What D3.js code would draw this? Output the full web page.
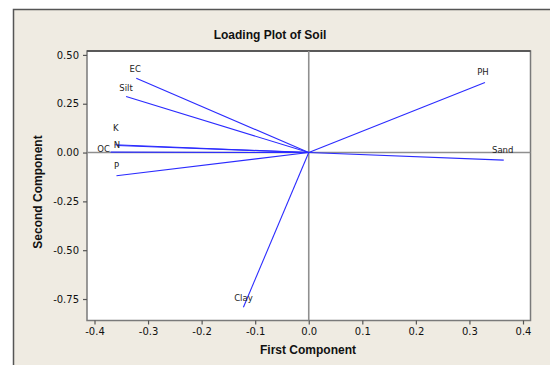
<!DOCTYPE html>
<html>
<head>
<meta charset="utf-8">
<script src="https://cdn.jsdelivr.net/npm/d3@7"></script>
<style>
  body { margin: 0; background: #fff; }
  svg { display: block; }
</style>
</head>
<body>
<div id="chart"></div>
<script>
// Loading plot data
var variables = ["EC", "Silt", "K", "N", "OC", "P", "PH", "Sand", "Clay"];
var firstComp = [-0.322, -0.341, -0.362, -0.358, -0.370, -0.359, 0.329, 0.364, -0.122];
var secondComp = [0.381, 0.287, 0.040, 0.036, 0.002, -0.119, 0.359, -0.039, -0.792];
var xTicks = [-0.4, -0.3, -0.2, -0.1, 0.0, 0.1, 0.2, 0.3, 0.4];
var yTicks = [0.50, 0.25, 0.00, -0.25, -0.50, -0.75];

// label nudges (pixels) so names sit like in the original
var labelOffsets = {
  EC: [-1, -6], Silt: [0, -6], K: [1, -14], N: [0, 2], OC: [-7, 0],
  P: [0, -7], PH: [-2, -7], Sand: [-1, -7], Clay: [0, -6]
};

var svgWidth = 550, svgHeight = 365;
var plot = { left: 87, right: 530.5, top: 51, bottom: 320.5 };

var svg = d3.select("#chart").append("svg")
  .attr("width", svgWidth)
  .attr("height", svgHeight);

// beige frame
svg.append("rect")
  .attr("x", 13.5).attr("y", 9.5)
  .attr("width", 560).attr("height", 380)
  .attr("fill", "#efebe2")
  .attr("stroke", "#555")
  .attr("stroke-width", 1.5);

var x = d3.scaleLinear().domain([-0.414, 0.414]).range([plot.left, plot.right]);
var y = d3.scaleLinear().domain([0.52, -0.86]).range([plot.top, plot.bottom]);

svg.append("rect")
  .attr("x", plot.left).attr("y", plot.top)
  .attr("width", plot.right - plot.left).attr("height", plot.bottom - plot.top)
  .attr("fill", "#fff")
  .attr("stroke", "#7a7a7a")
  .attr("stroke-width", 1.5);
svg.append("line")
  .attr("x1", plot.left).attr("x2", plot.right)
  .attr("y1", plot.top).attr("y2", plot.top)
  .attr("stroke", "#444").attr("stroke-width", 1.5);

// reference lines at zero
svg.append("line")
  .attr("x1", x(0)).attr("x2", x(0))
  .attr("y1", plot.top).attr("y2", plot.bottom)
  .attr("stroke", "#8f8f8f").attr("stroke-width", 1.6);
svg.append("line")
  .attr("x1", plot.left).attr("x2", plot.right)
  .attr("y1", y(0)).attr("y2", y(0))
  .attr("stroke", "#8f8f8f").attr("stroke-width", 1.6);

// axes (plain hyphen for minus, like the original)
var fmt = function(spec) {
  var f = d3.format(spec);
  return d => f(d).replace("\u2212", "-");
};
var xAxis = d3.axisBottom(x).tickValues(xTicks).tickFormat(fmt(".1f")).tickSize(4).tickSizeOuter(0).tickPadding(3);
var yAxis = d3.axisLeft(y).tickValues(yTicks).tickFormat(fmt(".2f")).tickSize(4).tickSizeOuter(0).tickPadding(4);

var gx = svg.append("g").attr("transform", `translate(0, ${plot.bottom})`).call(xAxis);
var gy = svg.append("g").attr("transform", `translate(${plot.left}, 0)`).call(yAxis);
[gx, gy].forEach(function(g) {
  g.select(".domain").remove();
  g.selectAll("line").attr("stroke", "#555").attr("stroke-width", 1.2);
  g.selectAll("text")
    .attr("font-family", "DejaVu Sans, Verdana, sans-serif")
    .attr("font-size", "10px")
    .attr("fill", "#111");
});
gx.selectAll("text").attr("dy", "0.75em");

// vectors
var loadings = variables.map(function(v, i) {
  return { name: v, pc1: firstComp[i], pc2: secondComp[i] };
});

svg.selectAll(".vec")
  .data(loadings)
  .enter()
  .append("line")
  .attr("class", "vec")
  .attr("x1", x(0)).attr("y1", y(0))
  .attr("x2", d => x(d.pc1))
  .attr("y2", d => y(d.pc2))
  .attr("stroke", "#2b2bff")
  .attr("stroke-width", 1.1);

svg.selectAll(".lbl")
  .data(loadings)
  .enter()
  .append("text")
  .attr("class", "lbl")
  .attr("x", d => x(d.pc1) + labelOffsets[d.name][0])
  .attr("y", d => y(d.pc2) + labelOffsets[d.name][1])
  .attr("text-anchor", "middle")
  .attr("font-family", "DejaVu Sans, Verdana, sans-serif")
  .attr("font-size", "8.5px")
  .attr("fill", "#222")
  .text(d => d.name);

// titles
svg.append("text")
  .attr("x", 270).attr("y", 38.5)
  .attr("text-anchor", "middle")
  .attr("font-family", "Liberation Sans, Arial, sans-serif")
  .attr("font-weight", "bold")
  .attr("font-size", "12px")
  .attr("fill", "#111")
  .text("Loading Plot of Soil");

svg.append("text")
  .attr("x", 308).attr("y", 353.5)
  .attr("text-anchor", "middle")
  .attr("font-family", "Liberation Sans, Arial, sans-serif")
  .attr("font-weight", "bold")
  .attr("font-size", "12px")
  .attr("fill", "#111")
  .text("First Component");

svg.append("text")
  .attr("transform", "translate(42, 192) rotate(-90)")
  .attr("text-anchor", "middle")
  .attr("font-family", "Liberation Sans, Arial, sans-serif")
  .attr("font-weight", "bold")
  .attr("font-size", "12px")
  .attr("fill", "#111")
  .text("Second Component");
</script>
</body>
</html>
